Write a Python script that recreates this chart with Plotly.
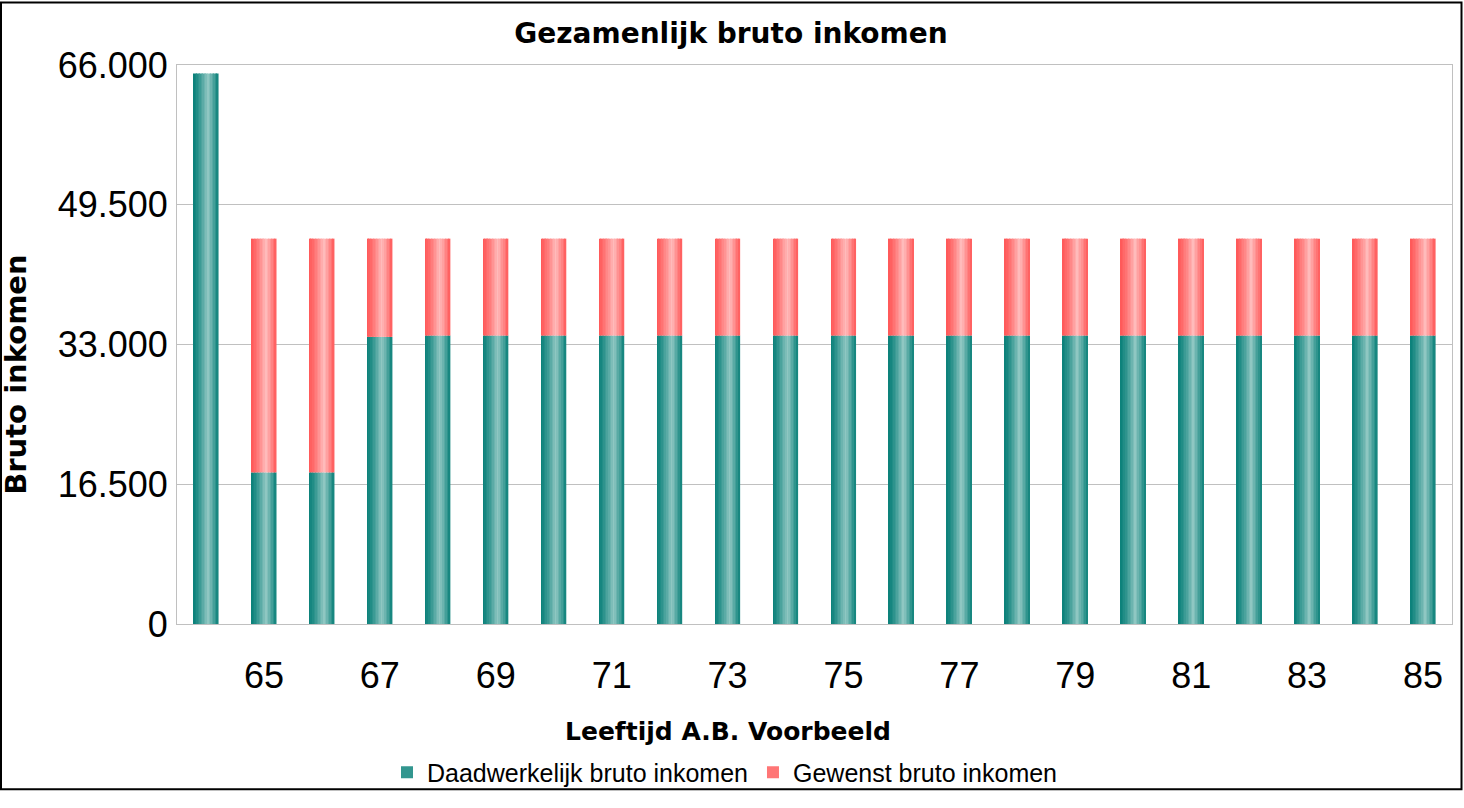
import plotly.graph_objects as go

# ---- data ----
ages = list(range(64, 86))
daadwerkelijk = [65000, 17900, 17900, 33900] + [34050] * 18
gewenst_extra = [0, 27600, 27600, 11600] + [11450] * 18
tick_ages = list(range(65, 86, 2))
y_ticks = [0, 16500, 33000, 49500, 66000]

# ---- styling ----
W = 0.43
N = 16
TEAL_DARK = (10, 128, 121)
TEAL_LIGHT = (145, 200, 195)
RED_DARK = (255, 88, 88)
RED_LIGHT = (255, 188, 188)


def prof(t):
    p = 0.6
    if t <= p:
        return (t / p) ** 1.3
    return (1 - (t - p) / (1 - p)) ** 0.9


def mix(a, b, f):
    return "rgb(%d,%d,%d)" % tuple(round(a[k] + (b[k] - a[k]) * f) for k in range(3))


fig = go.Figure()
for i in range(N):
    t = (i + 0.5) / N
    f = prof(t)
    fig.add_trace(go.Bar(
        x=ages, y=daadwerkelijk, width=W / N + 0.002, offset=-W / 2 + i * W / N,
        marker=dict(color=mix(TEAL_DARK, TEAL_LIGHT, f), line=dict(width=0)),
        showlegend=False, hoverinfo="skip"))
    fig.add_trace(go.Bar(
        x=ages, y=gewenst_extra, base=daadwerkelijk, width=W / N + 0.002, offset=-W / 2 + i * W / N,
        marker=dict(color=mix(RED_DARK, RED_LIGHT, f), line=dict(width=0)),
        showlegend=False, hoverinfo="skip"))

# legend entries
fig.add_trace(go.Bar(x=[None], y=[None], name="Daadwerkelijk bruto inkomen",
                     marker=dict(color=mix(TEAL_DARK, TEAL_LIGHT, 0.3), line=dict(width=0))))
fig.add_trace(go.Bar(x=[None], y=[None], name="Gewenst bruto inkomen",
                     marker=dict(color=mix(RED_DARK, RED_LIGHT, 0.3), line=dict(width=0))))

L, R, T, B = 177, 12, 65, 171
PW, PH = 1464 - L - R, 808 - T - B


def px(xp):
    return (xp - L) / PW


def py(yp):
    return (808 - B - yp) / PH


fig.update_layout(
    width=1464, height=808, autosize=False,
    margin=dict(l=L, r=R, t=T, b=B),
    paper_bgcolor="white", plot_bgcolor="white",
    barmode="overlay",
    separators=",.",
    font=dict(family="Liberation Sans, Arial, sans-serif", color="black"),
    title=dict(text="<b>Gezamenlijk bruto inkomen</b>", x=731 / 1464, xanchor="center",
               y=1 - 33 / 808, yanchor="middle",
               font=dict(family="DejaVu Sans, sans-serif", size=28, color="black")),
    xaxis=dict(range=[63.5, 85.5], tickvals=tick_ages, ticktext=[str(a) for a in tick_ages],
               tickfont=dict(size=36), showgrid=False, showline=True, linecolor="#c0c0c0",
               mirror=True, ticks="", ticklabelstandoff=20, zeroline=False),
    yaxis=dict(range=[0, 66000], tickvals=y_ticks, tickformat=",d",
               tickfont=dict(size=36), showgrid=True, gridcolor="#c0c0c0", gridwidth=1,
               showline=True, linecolor="#c0c0c0", mirror=True, ticks="",
               ticklabelstandoff=1, zeroline=False),
    legend=dict(orientation="h", x=px(725), xanchor="center", y=py(789), yanchor="middle",
                font=dict(size=25), itemwidth=30, traceorder="normal",
                bgcolor="rgba(0,0,0,0)"),
    annotations=[
        dict(text="<b>Leeftijd A.B. Voorbeeld</b>", xref="paper", yref="paper",
             x=px(728), y=py(747), xanchor="center", yanchor="middle", showarrow=False,
             font=dict(family="DejaVu Sans, sans-serif", size=25, color="black")),
        dict(text="<b>Bruto inkomen</b>", xref="paper", yref="paper", textangle=-90,
             x=px(16), y=py(382), xanchor="center", yanchor="middle", showarrow=False,
             font=dict(family="DejaVu Sans, sans-serif", size=29, color="black")),
    ],
    shapes=[dict(type="rect", xref="paper", yref="paper",
                 x0=px(1), x1=px(1461.5), y0=py(806), y1=py(1),
                 line=dict(color="black", width=2), fillcolor="rgba(0,0,0,0)", layer="above")],
)

fig.write_html(
    "out.html",
    config={"displayModeBar": False, "responsive": False},
    post_script=(
        "document.documentElement.style.margin='0px';"
        "document.documentElement.style.overflow='hidden';"
        "document.body.style.margin='0px';"
        "document.body.style.overflow='hidden';"
    ),
)
